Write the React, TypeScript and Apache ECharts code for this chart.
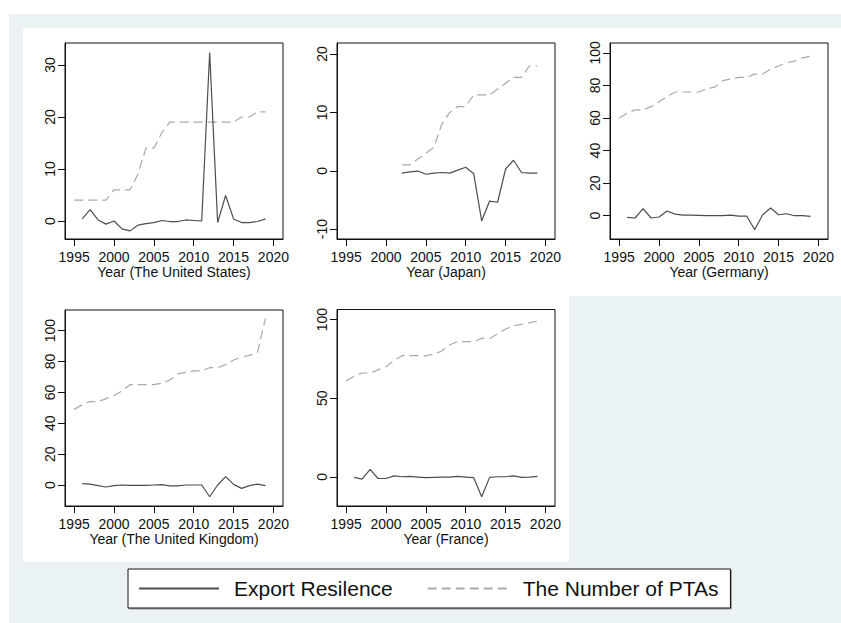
import React, { useEffect, useRef } from "react";
import * as echarts from "echarts";

const years = [1995, 1996, 1997, 1998, 1999, 2000, 2001, 2002, 2003, 2004, 2005, 2006, 2007, 2008, 2009, 2010, 2011, 2012, 2013, 2014, 2015, 2016, 2017, 2018, 2019];
const xTicks = [1995, 2000, 2005, 2010, 2015, 2020];

const panelTitles = ["Year (The United States)", "Year (Japan)", "Year (Germany)", "Year (The United Kingdom)", "Year (France)"];

const usExport = [null, 0.4, 2.2, 0.2, -0.6, 0, -1.5, -1.9, -0.8, -0.5, -0.3, 0.1, -0.1, -0.1, 0.2, 0.1, 0, 32.4, -0.3, 4.9, 0.4, -0.3, -0.3, -0.1, 0.4];
const usPTAs = [4, 4, 4, 4, 4, 6, 6, 6, 9, 14, 14, 17, 19, 19, 19, 19, 19, 19, 19, 19, 19, 20, 20, 21, 21];

const jpExport = [null, null, null, null, null, null, null, -0.4, -0.2, -0.05, -0.6, -0.4, -0.3, -0.4, 0.1, 0.6, -0.5, -8.6, -5.2, -5.4, 0.3, 1.8, -0.3, -0.4, -0.4];
const jpPTAs = [null, null, null, null, null, null, null, 1, 1, 2, 3, 4, 8, 10, 11, 11, 13, 13, 13, 14, 15, 16, 16, 18, 18];

const deExport = [null, -1, -1.4, 4.3, -1.4, -0.8, 2.9, 1, 0.4, 0.4, 0.2, 0, 0, 0, 0.4, -0.2, -0.2, -8.6, 0.6, 4.7, 0.6, 1.2, 0, 0, -0.4];
const dePTAs = [60, 63, 65, 65, 67, 70, 73, 76, 76, 76, 76, 78, 79, 83, 84, 85, 85, 87, 87, 90, 92, 94, 95, 97, 98];

const ukExport = [null, 0.9, 0.6, -0.4, -1.3, -0.4, 0, -0.2, -0.2, -0.2, 0, 0.2, -0.6, -0.6, 0, 0, 0, -7.6, 0, 5.4, 0.4, -2.2, -0.4, 0.6, -0.4];
const ukPTAs = [49, 52, 54, 54, 56, 58, 61, 65, 65, 65, 65, 66, 68, 72, 73, 74, 74, 76, 76, 78, 81, 83, 84, 86, 108];

const frExport = [null, -0.4, -1.5, 4.7, -1.1, -1.1, 0.6, 0, 0.2, -0.2, -0.6, -0.4, -0.2, -0.2, 0.2, -0.2, -0.6, -12.7, -0.4, 0, 0, 0.6, -0.4, -0.2, 0.2];
const frPTAs = [61, 64, 66, 66, 68, 70, 74, 77, 77, 77, 77, 78, 80, 84, 86, 86, 86, 88, 88, 91, 94, 96, 97, 98, 99];

const usYTicks = [0, 10, 20, 30];
const jpYTicks = [-10, 0, 10, 20];
const deYTicks = [0, 20, 40, 60, 80, 100];
const ukYTicks = [0, 20, 40, 60, 80, 100];
const frYTicks = [0, 50, 100];

const exportSeries = [usExport, jpExport, deExport, ukExport, frExport];
const ptaSeries = [usPTAs, jpPTAs, dePTAs, ukPTAs, frPTAs];
const yTickSets = [usYTicks, jpYTicks, deYTicks, ukYTicks, frYTicks];

const SOLID_NAME = "Export Resilence";
const DASH_NAME = "The Number of PTAs";

// layout (pixels) of each plot frame
const frames = [
  { left: 65, top: 43, width: 218, height: 196, ymin: -3.46, ymax: 34.23 },
  { left: 337, top: 43, width: 218, height: 196, ymin: -11.7, ymax: 21.9 },
  { left: 610, top: 43, width: 218, height: 196, ymin: -14.3, ymax: 106.1 },
  { left: 65, top: 310, width: 218, height: 196, ymin: -13.6, ymax: 113.4 },
  { left: 337, top: 309.5, width: 218, height: 196.5, ymin: -18.6, ymax: 106.4 },
];

const FONT = "'Liberation Sans', Arial, sans-serif";

export default function App() {
  const ref = useRef<HTMLDivElement>(null);
  useEffect(() => {
    if (!ref.current) return;
    const chart = echarts.init(ref.current, undefined, { renderer: "svg" });
    const grids: any[] = [];
    const xAxes: any[] = [];
    const yAxes: any[] = [];
    const series: any[] = [];
    frames.forEach((f, i) => {
      grids.push({
        left: f.left,
        top: f.top,
        width: f.width,
        height: f.height,
        show: true,
        borderColor: "#111",
        borderWidth: 1,
        backgroundColor: "#fff",
        containLabel: false,
      });
      xAxes.push({
        type: "value",
        gridIndex: i,
        min: 1993.85,
        max: 2021.2,
        name: panelTitles[i],
        nameLocation: "middle",
        nameGap: 22,
        nameTextStyle: { fontFamily: FONT, fontSize: 14, color: "#111" },
        axisLine: { show: true, onZero: false, lineStyle: { color: "#111", width: 1 } },
        axisTick: { show: true, length: 7, lineStyle: { color: "#111" }, customValues: xTicks },
        axisLabel: {
          show: true,
          fontFamily: FONT,
          fontSize: 14,
          color: "#111",
          margin: 11,
          customValues: xTicks,
          formatter: (v: number) => String(Math.round(v)),
        },
        splitLine: { show: false },
      });
      yAxes.push({
        type: "value",
        gridIndex: i,
        min: f.ymin,
        max: f.ymax,
        axisLine: { show: true, onZero: false, lineStyle: { color: "#111", width: 1 } },
        axisTick: { show: true, length: 7, lineStyle: { color: "#111" }, customValues: yTickSets[i] },
        axisLabel: {
          show: true,
          fontFamily: FONT,
          fontSize: 14,
          color: "#111",
          rotate: 90,
          margin: 8,
          customValues: yTickSets[i],
          formatter: (v: number) => String(Math.round(v)),
        },
        splitLine: { show: false },
      });
      series.push({
        type: "line",
        name: DASH_NAME,
        xAxisIndex: i,
        yAxisIndex: i,
        symbol: "none",
        connectNulls: false,
        lineStyle: { color: "#a9a9a9", width: 1.2, type: [9, 5] },
        itemStyle: { color: "#a9a9a9" },
        data: years.map((y, k) => [y, ptaSeries[i][k]]),
      });
      series.push({
        type: "line",
        name: SOLID_NAME,
        xAxisIndex: i,
        yAxisIndex: i,
        symbol: "none",
        connectNulls: false,
        lineStyle: { color: "#4d4d4d", width: 1.2 },
        itemStyle: { color: "#4d4d4d" },
        data: years.map((y, k) => [y, exportSeries[i][k]]),
      });
    });

    chart.setOption({
      animation: false,
      backgroundColor: "#ffffff",
      graphic: [
        { type: "rect", z: -10, silent: true, shape: { x: 9, y: 14, width: 832, height: 609 }, style: { fill: "#eaf2f3" } },
        { type: "rect", z: -9, silent: true, shape: { x: 23, y: 28, width: 818, height: 268 }, style: { fill: "#ffffff" } },
        { type: "rect", z: -9, silent: true, shape: { x: 23, y: 296, width: 546, height: 266 }, style: { fill: "#ffffff" } },
      ],
      grid: grids,
      xAxis: xAxes,
      yAxis: yAxes,
      legend: {
        data: [
          { name: SOLID_NAME },
          { name: DASH_NAME },
        ],
        left: 128,
        top: 569,
        padding: [9, 12, 9, 10],
        itemWidth: 80,
        itemHeight: 14,
        itemGap: 34,
        borderColor: "#111",
        borderWidth: 1,
        backgroundColor: "#fff",
        shadowColor: "rgba(0,0,0,0.35)",
        shadowOffsetX: 1,
        shadowOffsetY: 1,
        itemStyle: { opacity: 0 },
        textStyle: { fontFamily: FONT, fontSize: 21, color: "#111", padding: [0, 0, 0, 10] },
        selectedMode: false,
      },
      series,
    });
    return () => chart.dispose();
  }, []);
  return (
    <div
      ref={ref}
      style={{ position: "fixed", left: 0, top: 0, width: 841, height: 623 }}
    />
  );
}
